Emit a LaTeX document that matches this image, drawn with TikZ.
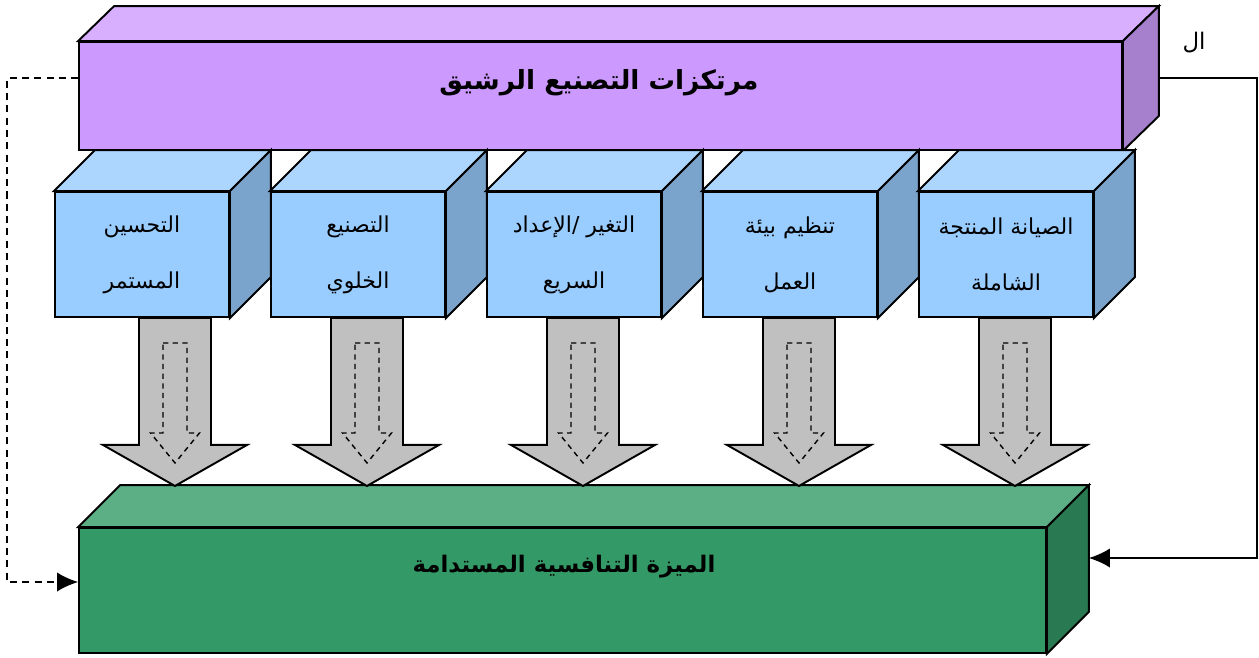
\documentclass[tikz,border=0pt]{standalone}
\usepackage{fontspec}
\usepackage{tikz}
\usetikzlibrary{calc}
\usetikzlibrary{arrows.meta}
\TeXXeTstate=1
\newfontfamily\arabicfont[Script=Arabic]{DejaVu Sans}

\definecolor{leanfront}{RGB}{204,153,255}
\definecolor{leantop}{RGB}{216,175,255}
\definecolor{leanside}{RGB}{166,128,204}
\definecolor{pillarfront}{RGB}{153,204,255}
\definecolor{pillartop}{RGB}{173,214,255}
\definecolor{pillarside}{RGB}{123,164,204}
\definecolor{advfront}{RGB}{51,153,102}
\definecolor{advtop}{RGB}{92,175,133}
\definecolor{advside}{RGB}{41,122,82}
\definecolor{flowgray}{RGB}{192,192,192}

\begin{document}
\begin{tikzpicture}[x = 0.02cm, y = -0.02cm,
        face/.style = {draw = black, line width = 1.1pt},
        pillar/.style = {face, fill = pillarfront, minimum width = 3.48cm, minimum height = 2.5cm, inner sep = 0pt, align = center, font = \arabicfont\fontsize{12.5}{32}\selectfont},
        flow/.style = {draw = black, line width = 1.1pt, fill = flowgray},
        innerflow/.style = {draw = black, line width = 0.8pt, dash pattern = on 3pt off 2.5pt},
        link/.style = {line width = 1pt, -{Latex[length = 12pt, width = 11pt]}}]
        \useasboundingbox (0,0) rectangle (1259,657);
        \def\leandepth{36};
        \def\pillardepth{41};
        \def\advdepth{42};

        % top block
        \node[face, fill = leanfront, minimum width = 20.86cm, minimum height = 2.16cm, inner sep = 0pt] (lean) at (600.5, 96){};
        \draw[face, fill = leantop] (lean.north west) -- ++(\leandepth,-35) -- ($(lean.north east)+(\leandepth,-35)$) -- (lean.north east) -- cycle;
        \draw[face, fill = leanside] (lean.north east) -- ++(\leandepth,-35) -- ($(lean.south east)+(\leandepth,-35)$) -- (lean.south east) -- cycle;
        \node[font = \arabicfont\bfseries\fontsize{15}{18}\selectfont] (leantitle) at (599, 83){\beginR مرتكزات التصنيع الرشيق\endR};

        % pillars
        \node[pillar] (tpm) at (1006, 254.5){\beginR الصيانة المنتجة\endR\\\beginR الشاملة\endR};
        \node[pillar] (work) at (790, 254.5){\beginR تنظيم بيئة\endR\\\beginR العمل\endR};
        \node[pillar] (setup) at (574, 254.5){\beginR التغير /الإعداد\endR\\\beginR السريع\endR};
        \node[pillar] (cell) at (358, 254.5){\beginR التصنيع\endR\\\beginR الخلوي\endR};
        \node[pillar] (kaizen) at (142, 254.5){\beginR التحسين\endR\\\beginR المستمر\endR};

        \draw[face, fill = pillartop] (kaizen.north west) -- ++(\pillardepth,-\pillardepth) -- ($(kaizen.north east)+(\pillardepth,-\pillardepth)$) -- (kaizen.north east) -- cycle;
        \draw[face, fill = pillarside] (kaizen.north east) -- ++(\pillardepth,-\pillardepth) -- ($(kaizen.south east)+(\pillardepth,-\pillardepth)$) -- (kaizen.south east) -- cycle;
        \draw[face, fill = pillartop] (cell.north west) -- ++(\pillardepth,-\pillardepth) -- ($(cell.north east)+(\pillardepth,-\pillardepth)$) -- (cell.north east) -- cycle;
        \draw[face, fill = pillarside] (cell.north east) -- ++(\pillardepth,-\pillardepth) -- ($(cell.south east)+(\pillardepth,-\pillardepth)$) -- (cell.south east) -- cycle;
        \draw[face, fill = pillartop] (setup.north west) -- ++(\pillardepth,-\pillardepth) -- ($(setup.north east)+(\pillardepth,-\pillardepth)$) -- (setup.north east) -- cycle;
        \draw[face, fill = pillarside] (setup.north east) -- ++(\pillardepth,-\pillardepth) -- ($(setup.south east)+(\pillardepth,-\pillardepth)$) -- (setup.south east) -- cycle;
        \draw[face, fill = pillartop] (work.north west) -- ++(\pillardepth,-\pillardepth) -- ($(work.north east)+(\pillardepth,-\pillardepth)$) -- (work.north east) -- cycle;
        \draw[face, fill = pillarside] (work.north east) -- ++(\pillardepth,-\pillardepth) -- ($(work.south east)+(\pillardepth,-\pillardepth)$) -- (work.south east) -- cycle;
        \draw[face, fill = pillartop] (tpm.north west) -- ++(\pillardepth,-\pillardepth) -- ($(tpm.north east)+(\pillardepth,-\pillardepth)$) -- (tpm.north east) -- cycle;
        \draw[face, fill = pillarside] (tpm.north east) -- ++(\pillardepth,-\pillardepth) -- ($(tpm.south east)+(\pillardepth,-\pillardepth)$) -- (tpm.south east) -- cycle;

        % bottom block
        \node[face, fill = advfront, minimum width = 19.34cm, minimum height = 2.5cm, inner sep = 0pt] (adv) at (562.5, 590.5){};
        \draw[face, fill = advtop] (adv.north west) -- ++(\advdepth,-\advdepth) -- ($(adv.north east)+(\advdepth,-\advdepth)$) -- (adv.north east) -- cycle;
        \draw[face, fill = advside] (adv.north east) -- ++(\advdepth,-\advdepth) -- ($(adv.south east)+(\advdepth,-\advdepth)$) -- (adv.south east) -- cycle;
        \node[font = \arabicfont\bfseries\fontsize{13}{16}\selectfont] (advtitle) at (564, 567){\beginR الميزة التنافسية المستدامة\endR};

        % gray arrows
        \draw[flow] ($(kaizen.south)+(-3,0)$) -- ++(72,0) -- ++(0,127) -- ++(36,0) -- ++(-72,41) -- ++(-72,-41) -- ++(36,0) -- cycle;
        \draw[flow] ($(cell.south)+(-27,0)$) -- ++(72,0) -- ++(0,127) -- ++(36,0) -- ++(-72,41) -- ++(-72,-41) -- ++(36,0) -- cycle;
        \draw[flow] ($(setup.south)+(-27,0)$) -- ++(72,0) -- ++(0,127) -- ++(36,0) -- ++(-72,41) -- ++(-72,-41) -- ++(36,0) -- cycle;
        \draw[flow] ($(work.south)+(-27,0)$) -- ++(72,0) -- ++(0,127) -- ++(36,0) -- ++(-72,41) -- ++(-72,-41) -- ++(36,0) -- cycle;
        \draw[flow] ($(tpm.south)+(-27,0)$) -- ++(72,0) -- ++(0,127) -- ++(36,0) -- ++(-72,41) -- ++(-72,-41) -- ++(36,0) -- cycle;

        \draw[innerflow] ($(kaizen.south)+(21,25)$) -- ++(24,0) -- ++(0,90) -- ++(12.5,0) -- ++(-24.5,30) -- ++(-24.5,-30) -- ++(12.5,0) -- cycle;
        \draw[innerflow] ($(cell.south)+(-3,25)$) -- ++(24,0) -- ++(0,90) -- ++(12.5,0) -- ++(-24.5,30) -- ++(-24.5,-30) -- ++(12.5,0) -- cycle;
        \draw[innerflow] ($(setup.south)+(-3,25)$) -- ++(24,0) -- ++(0,90) -- ++(12.5,0) -- ++(-24.5,30) -- ++(-24.5,-30) -- ++(12.5,0) -- cycle;
        \draw[innerflow] ($(work.south)+(-3,25)$) -- ++(24,0) -- ++(0,90) -- ++(12.5,0) -- ++(-24.5,30) -- ++(-24.5,-30) -- ++(12.5,0) -- cycle;
        \draw[innerflow] ($(tpm.south)+(-3,25)$) -- ++(24,0) -- ++(0,90) -- ++(12.5,0) -- ++(-24.5,30) -- ++(-24.5,-30) -- ++(12.5,0) -- cycle;

        % feedback lines
        \draw[link, dash pattern = on 4pt off 3pt] ($(lean.west)+(0,-18)$) -- ++(-71,0) |- ($(adv.west)+(0,-8.5)$);
        \draw[link] ($(lean.east)+(\leandepth,-18)$) -- ++(98,0) |- ($(adv.east)+(\advdepth,-32.5)$);
        \node[font = \arabicfont\fontsize{13}{15}\selectfont] (note) at (1194, 43){\beginR ال\endR};
\end{tikzpicture}
\end{document}
